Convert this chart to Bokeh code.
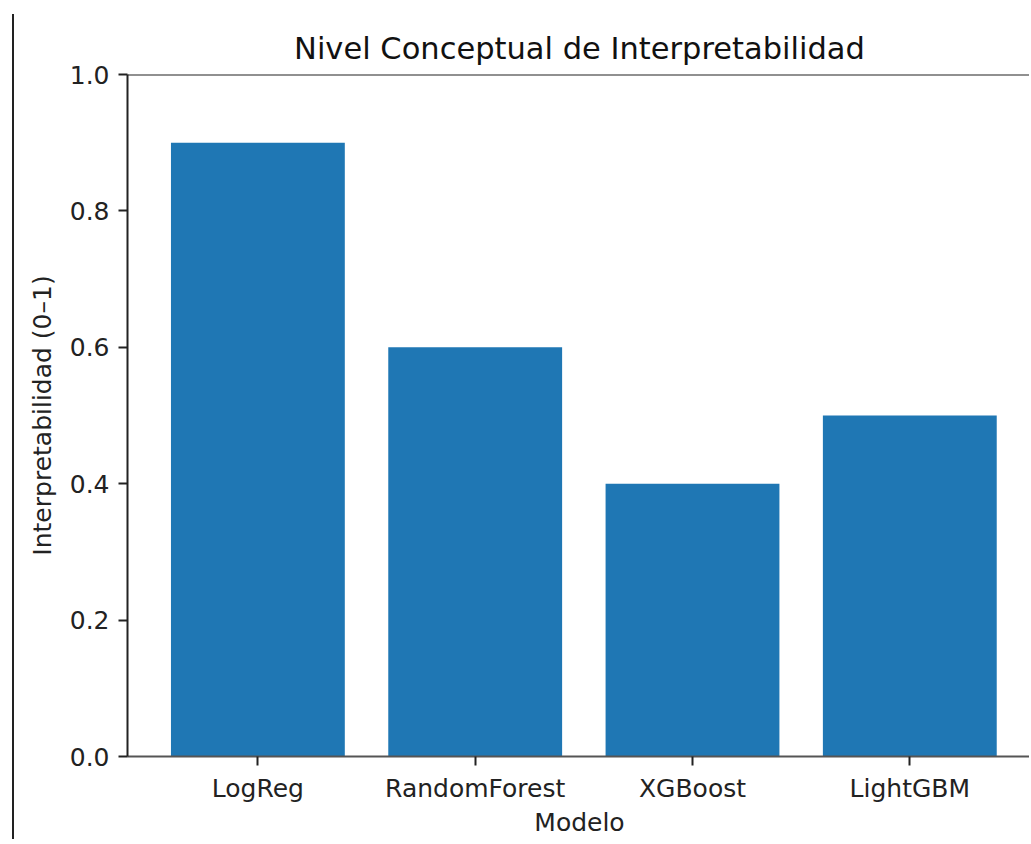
from bokeh.plotting import figure
from bokeh.models import FixedTicker, Span, CustomJSTickFormatter
from bokeh.embed import file_html
from bokeh.resources import INLINE

models = ["LogReg", "RandomForest", "XGBoost", "LightGBM"]
interpretability = [0.9, 0.6, 0.4, 0.5]
y_ticks = [0.0, 0.2, 0.4, 0.6, 0.8, 1.0]

xs = list(range(len(models)))

p = figure(width=1017, height=825, output_backend="svg", toolbar_location=None,
           x_range=(-0.60, 3.56), y_range=(0.0, 1.0),
           title="Nivel Conceptual de Interpretabilidad")
p.styles = {"border-left": "2px solid #222", "margin-left": "12px", "margin-top": "14px"}
p.min_border_left = 113
p.min_border_right = 0
p.min_border_top = 60
p.min_border_bottom = 71
p.outline_line_color = None
p.grid.visible = False
p.background_fill_color = "white"
p.border_fill_color = "white"

p.vbar(x=xs, top=interpretability, width=0.8, bottom=0, color="#1f77b4", line_color=None)

p.add_layout(Span(location=1.0, dimension="width", line_color="#222", line_width=2))

p.title.text_font = "DejaVu Sans"
p.title.text_font_size = "30.5px"
p.title.text_font_style = "normal"
p.title.text_color = "#111"
p.title.align = "center"
p.title.standoff = 17

for ax in (p.xaxis[0], p.yaxis[0]):
    ax.major_label_text_font = "DejaVu Sans"
    ax.major_label_text_font_size = "25px"
    ax.major_label_text_color = "#222"
    ax.axis_label_text_font = "DejaVu Sans"
    ax.axis_label_text_font_size = "25px"
    ax.axis_label_text_font_style = "normal"
    ax.axis_label_text_color = "#222"
    ax.major_tick_out = 9
    ax.major_tick_in = 0
    ax.minor_tick_out = 0
    ax.minor_tick_in = 0
    ax.major_tick_line_color = "#222"
    ax.major_tick_line_width = 2
    ax.axis_line_width = 2

p.xaxis.axis_label = "Modelo"
p.xaxis.ticker = FixedTicker(ticks=xs)
p.xaxis.major_label_overrides = {i: m for i, m in zip(xs, models)}
p.xaxis.axis_line_color = "#555"
p.xaxis.major_label_standoff = 8
p.xaxis.axis_label_standoff = 2

p.yaxis.axis_label = "Interpretabilidad (0–1)"
p.yaxis.ticker = FixedTicker(ticks=y_ticks)
p.yaxis.formatter = CustomJSTickFormatter(code="return tick.toFixed(1);")
p.yaxis.axis_line_color = "#222"
p.yaxis.major_label_standoff = 9
p.yaxis.axis_label_standoff = 10

open("out.html", "w").write(file_html(p, INLINE))
